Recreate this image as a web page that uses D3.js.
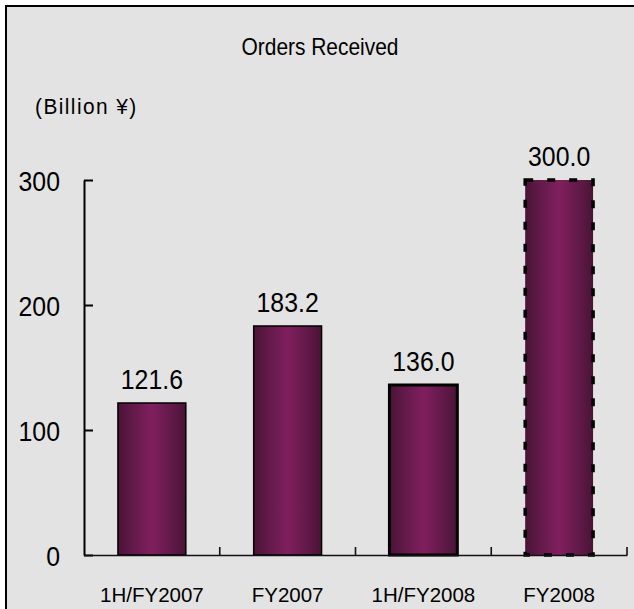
<!DOCTYPE html>
<html><head><meta charset="utf-8">
<script src="https://cdn.jsdelivr.net/npm/d3@7"></script>
<style>
html,body{margin:0;padding:0;background:#fff;}
svg{display:block;font-family:"Liberation Sans",Arial,sans-serif;}
</style></head>
<body><svg id="chart"></svg>
<script>
const W=634,H=609;
// data
const periods=['1H/FY2007','FY2007','1H/FY2008','FY2008'];
const orders=[121.6,183.2,136.0,300.0];
const yTicks=[0,100,200,300];
const forecast=[false,false,false,true];
const title='Orders Received', unit='(Billion ¥)';

const NARROW=0.92; // original font is a tall, narrow gothic
const svg=d3.select('#chart').attr('width',W).attr('height',H).attr('viewBox',`0 0 ${W} ${H}`);
const defs=svg.append('defs');
const gr=defs.append('linearGradient').attr('id','barGrad').attr('x1','0').attr('x2','1').attr('y1','0').attr('y2','0');
[[0,'#491335'],[0.18,'#5e1946'],[0.5,'#801f5e'],[0.82,'#5e1946'],[1,'#491335']].forEach(s=>gr.append('stop').attr('offset',s[0]).attr('stop-color',s[1]));

function label(g,x,y,txt,size,sx,anchor){
  return g.append('text').attr('transform',`translate(${x},${y}) scale(${sx},1)`)
    .attr('text-anchor',anchor||'middle').style('font-size',size+'px').attr('fill','#000').text(txt);
}

// frame
svg.append('rect').attr('x',6).attr('y',6).attr('width',W+20).attr('height',H+20)
  .attr('fill','#e3e3e3').attr('stroke','#000').attr('stroke-width',2);

label(svg,320,55,title,23,0.91);
label(svg,35,114,unit,22,0.95,'start').style('letter-spacing','1.5px');

const x=d3.scaleBand().domain(periods).range([84,627]).paddingInner(0.5).paddingOuter(0.25);
const y=d3.scaleLinear().domain([0,300]).range([555,180]);

// bars
const gBar=svg.append('g');
gBar.selectAll('rect').data(orders).join('rect')
  .attr('x',(d,i)=>x(periods[i])).attr('width',x.bandwidth())
  .attr('y',d=>y(d)).attr('height',d=>y(0)-y(d))
  .attr('fill','url(#barGrad)').attr('stroke','#000')
  .attr('stroke-width',(d,i)=>forecast[i]?3.5:(i===2?3:1.5))
  .attr('stroke-dasharray',(d,i)=>forecast[i]?'8,14':null);

// value labels
const gVal=svg.append('g');
orders.forEach((d,i)=>label(gVal,x(periods[i])+x.bandwidth()/2,y(d)-14,d.toFixed(1),27,NARROW));

// y axis (ticks point inward)
const gy=svg.append('g').attr('transform','translate(84,0)')
  .call(d3.axisLeft(y).tickValues(yTicks).tickSize(-9).tickSizeOuter(0).tickPadding(24).tickFormat(d3.format('d')));
gy.select('.domain').attr('stroke','#000').attr('stroke-width',2);
gy.selectAll('.tick line').attr('stroke','#000').attr('stroke-width',2);
gy.selectAll('.tick text').style('font-size','27px').attr('fill','#000').attr('dy','0.4em').style('font-family','inherit')
  .attr('x',-24/NARROW).attr('transform',`scale(${NARROW},1)`);

// x axis
const gx=svg.append('g').attr('transform',`translate(0,${y(0)})`)
  .call(d3.axisBottom(x).tickSize(0).tickSizeOuter(0).tickPadding(32));
gx.select('.domain').attr('stroke','#111').attr('stroke-width',1.6);
gx.selectAll('.tick text').style('font-size','20.5px').attr('fill','#000').style('font-family','inherit');
gx.selectAll('line.sep').data(d3.range(1,periods.length+1)).join('line').attr('class','sep')
  .attr('x1',i=>84+i*x.step()).attr('x2',i=>84+i*x.step())
  .attr('y1',0).attr('y2',-8).attr('stroke','#111').attr('stroke-width',1.6);
</script></body></html>
